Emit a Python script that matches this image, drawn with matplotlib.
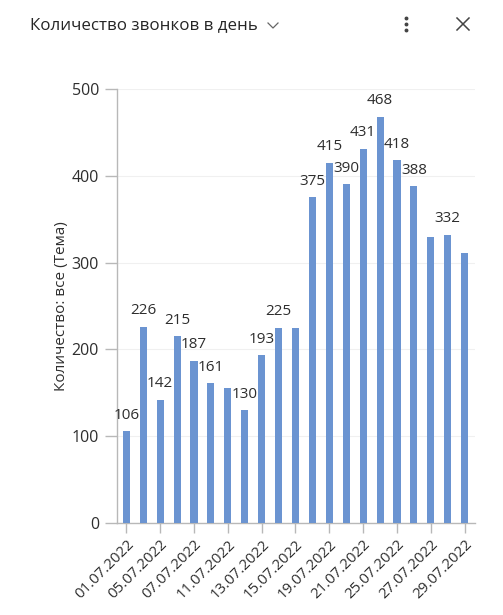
import matplotlib
matplotlib.use("Agg")
import matplotlib.pyplot as plt
from matplotlib.lines import Line2D

plt.rcParams['font.family'] = ['Open Sans', 'DejaVu Sans']

# Data
dates = ["01.07.2022", "04.07.2022", "05.07.2022", "06.07.2022", "07.07.2022",
         "08.07.2022", "11.07.2022", "12.07.2022", "13.07.2022", "14.07.2022",
         "15.07.2022", "18.07.2022", "19.07.2022", "20.07.2022", "21.07.2022",
         "22.07.2022", "25.07.2022", "26.07.2022", "27.07.2022", "28.07.2022",
         "29.07.2022"]
calls = [106, 226, 142, 215, 187, 161, 155, 130, 193, 225, 225,
         375, 415, 390, 431, 468, 418, 388, 329, 332, 311]
# bars whose value label is shown in the reference
labeled = [True, True, True, True, True, True, False, True, True, True, False,
           True, True, True, True, True, True, True, False, True, False]

BAR_COLOR = "#6b94d1"
TEXT_COLOR = "#2e2e2e"
AXIS_COLOR = "#b8b8b8"

fig = plt.figure(figsize=(5.03, 6.15), dpi=100)
ax = fig.add_axes([0.2326, 0.1496, 0.944 - 0.2326, 0.8553 - 0.1496])

x = list(range(len(calls)))
bars = ax.bar(x, calls, width=0.42, color=BAR_COLOR, zorder=3)

for xi, val, show in zip(x, calls, labeled):
    if show:
        ax.annotate(str(val), (xi, val), xytext=(0, 11.5), textcoords='offset points',
                    ha='center', va='center', fontsize=11, color=TEXT_COLOR)

ax.set_ylim(0, 500)
ax.set_xlim(-0.55, len(calls) - 0.4)
ax.set_yticks([0, 100, 200, 300, 400, 500])
ax.tick_params(axis='y', length=9, width=1, color=AXIS_COLOR, labelsize=11.5,
               labelcolor=TEXT_COLOR, pad=4)
ax.set_xticks(x[::2])
ax.set_xticklabels(dates[::2], rotation=45, ha='right', rotation_mode='anchor')
ax.tick_params(axis='x', length=7, width=1, color=AXIS_COLOR, labelsize=10.8,
               labelcolor=TEXT_COLOR, pad=3)
ax.grid(axis='y', color='#f0f0f0', linewidth=0.8, zorder=0)
ax.set_axisbelow(True)

for side in ['top', 'right']:
    ax.spines[side].set_visible(False)
for side in ['left', 'bottom']:
    ax.spines[side].set_color(AXIS_COLOR)
    ax.spines[side].set_linewidth(1)

ax.set_ylabel("Количество: все (Тема)", fontsize=11, color=TEXT_COLOR, labelpad=2)

# header
fig.text(30 / 503, 1 - 25 / 615, "Количество звонков в день", fontsize=12.2,
         color="#252525", ha='left', va='center')
W, H = 503, 615
def px_line(xs, ys, **kw):
    fig.add_artist(Line2D([v / W for v in xs], [1 - v / H for v in ys],
                          transform=fig.transFigure, **kw))
px_line([268, 273, 278], [23, 28, 23], color="#666666", linewidth=0.9)
px_line([457, 469], [18, 30], color="#444444", linewidth=1.1)
px_line([457, 469], [30, 18], color="#444444", linewidth=1.1)
for dy in [18, 24, 30]:
    fig.add_artist(Line2D([406 / W], [1 - dy / H], marker='o', markersize=1.8,
                          color="#444444", transform=fig.transFigure))

fig.savefig("out.png", dpi=100)
